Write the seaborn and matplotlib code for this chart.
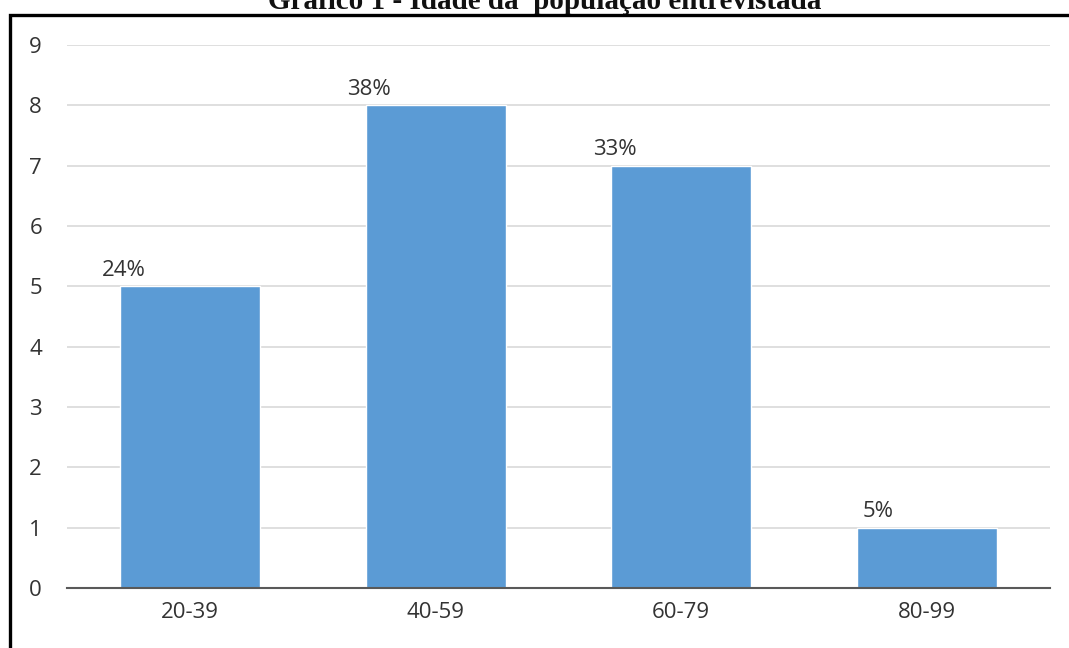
import matplotlib
matplotlib.use("Agg")
import matplotlib.pyplot as plt
from matplotlib.patches import Rectangle
import seaborn as sns
import pandas as pd

faixas = ["20-39", "40-59", "60-79", "80-99"]
contagem = [5, 8, 7, 1]
percentuais = ["24%", "38%", "33%", "5%"]
y_ticks = [0, 1, 2, 3, 4, 5, 6, 7, 8, 9]

sns.set_theme(style="white")
plt.rcParams["font.family"] = ["Open Sans", "DejaVu Sans"]

df = pd.DataFrame({"faixa": faixas, "n": contagem})

fig = plt.figure(figsize=(10.69, 6.48), dpi=100)
ax = fig.add_axes([0.0627, 0.0926, 0.9193, 0.838])

sns.barplot(data=df, x="faixa", y="n", color="#5B9BD5", saturation=1,
            width=0.57, ax=ax)

ax.set_ylim(0, 9)
ax.set_xlim(-0.5, len(faixas) - 0.5)
ax.set_yticks(y_ticks)
ax.set_yticklabels([str(t) for t in y_ticks])
ax.yaxis.grid(True, color="#D9D9D9", linewidth=1.2)
ax.set_axisbelow(True)
for s in ["top", "right", "left"]:
    ax.spines[s].set_visible(False)
ax.spines["bottom"].set_color("#595959")
ax.spines["bottom"].set_linewidth(1.5)
ax.spines["bottom"].set_zorder(5)
ax.tick_params(axis="y", length=0, pad=18, labelsize=16, labelcolor="#333333")
ax.tick_params(axis="x", length=0, pad=10, labelsize=16, labelcolor="#333333")
ax.set_xlabel("")
ax.set_ylabel("")

# percentage labels sitting above the left part of each bar
for i, (v, lab) in enumerate(zip(contagem, percentuais)):
    off = -0.20 if len(lab) < 3 else -0.27
    ax.annotate(lab, xy=(i + off, v), xytext=(0, 4), textcoords="offset points",
                ha="center", va="bottom", fontsize=16, color="#333333")

# frame around the chart
fig.patches.append(Rectangle((10 / 1069, -0.05), 1.1, 1 - 14.5 / 648 + 0.05,
                             transform=fig.transFigure, fill=False,
                             edgecolor="black", linewidth=2.4, zorder=10))

fig.text(545 / 1069, 1 - 9 / 648, "Gráfico 1 - Idade da  população entrevistada",
         ha="center", va="baseline", fontsize=21, fontweight="bold",
         family=["Liberation Serif", "DejaVu Serif"], color="#111111")

fig.savefig("out.png", dpi=100)
